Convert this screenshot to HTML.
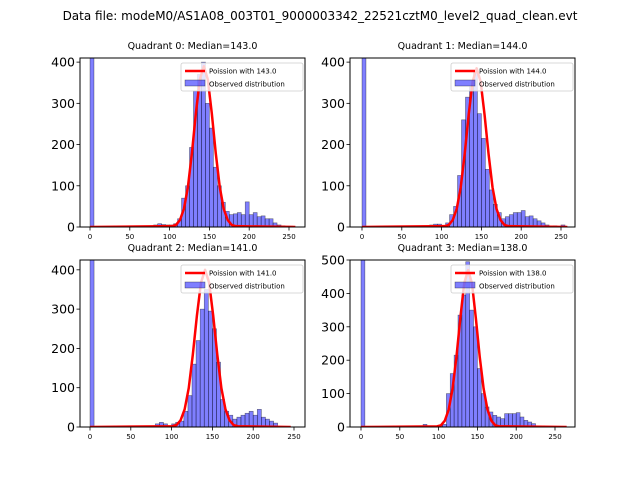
<!DOCTYPE html>
<html><head><meta charset="utf-8"><style>
body{margin:0;background:#fff;font-family:"Liberation Sans","DejaVu Sans",sans-serif}
svg text{font-family:"DejaVu Sans","Liberation Sans",sans-serif}
</style></head><body>
<svg id="fig" width="640" height="480" xmlns="http://www.w3.org/2000/svg">
<rect width="640" height="480" fill="#fff"/>
<text x="320" y="20" font-size="12" text-anchor="middle">Data file: modeM0/AS1A08_003T01_9000003342_22521cztM0_level2_quad_clean.evt</text>
</svg>
<script>
const binStarts=[0,75,80,85,90,95,100,105,110,115,120,125,130,135,140,145,150,155,160,165,170,175,180,185,190,195,200,205,210,215,220,225,230,235,240,245,250];
const q0Counts=[2000,2,5,8,6,5,5,8,20,70,100,193,330,370,400,300,240,145,100,60,38,30,32,35,30,61,30,35,25,27,20,20,10,5,3,2,2];
const q1Counts=[2000,3,2,5,7,7,3,10,30,50,125,260,315,340,380,275,215,140,90,55,35,20,25,30,35,35,40,25,27,20,15,10,5,2,3,1,5];
const q2Counts=[2000,0,8,12,8,3,8,12,15,40,80,160,220,300,350,295,250,165,70,40,30,20,25,30,35,40,30,45,25,20,15,10,0,0,0,0,0];
const q3Counts=[2000,3,8,1,2,3,5,8,100,160,215,335,395,495,350,300,175,100,60,45,35,30,25,40,40,40,43,30,20,15,10,3,3,0,0,0,0];
const curveOffsets=[-40,-35,-30,-25,-20,-15,-10,-5,0,5,10,15,20,25,30,35,40];
const q0Curve=[2,5,17,44,97,179,276,358,390,358,276,179,97,44,17,5,2];
const q1Curve=[2,5,17,44,96,177,272,353,385,353,272,177,96,44,17,5,2];
const q2Curve=[2,5,17,45,99,184,283,367,400,367,283,184,99,45,17,5,2];
const q3Curve=[2,5,19,52,115,210,326,430,470,430,326,210,115,52,19,5,2];
const medians=[143,144,141,138];
const curveEnds=[258,258,246,265];
const yTicksA=[0,100,200,300,400];
const yTicksB=[0,100,200,300,400,500];
const xTicks=[0,50,100,150,200,250];
const panels=[
 {l:80,r:305,t:58,b:227,x0:90,x250:289,ymax:410,counts:q0Counts,curve:q0Curve,yt:yTicksA},
 {l:350,r:575,t:58,b:227,x0:362,x250:561,ymax:410,counts:q1Counts,curve:q1Curve,yt:yTicksA},
 {l:80,r:305,t:260,b:427,x0:90,x250:294,ymax:425,counts:q2Counts,curve:q2Curve,yt:yTicksA},
 {l:350,r:575,t:260,b:427,x0:361,x250:555,ymax:500,counts:q3Counts,curve:q3Curve,yt:yTicksB}];
const NS="http://www.w3.org/2000/svg";
const fig=document.getElementById('fig');
function mk(tag,attrs,parent){const e=document.createElementNS(NS,tag);for(const k in attrs)e.setAttribute(k,attrs[k]);(parent||fig).appendChild(e);return e;}
panels.forEach((p,i)=>{
 const g=mk('g',{});
 
 
 const xs=v=>p.x0+(p.x250-p.x0)*v/250;
 const ys=v=>p.b-(p.b-p.t)*v/p.ymax;
 const cid='clip'+i;
 const cp=mk('clipPath',{id:cid},g);mk('rect',{x:p.l,y:p.t,width:p.r-p.l,height:p.b-p.t},cp);
 const t=mk('text',{x:(p.l+p.r)/2,y:p.t-9,'font-size':9.5,'text-anchor':'middle'},g);
 t.textContent='Quadrant '+i+': Median='+medians[i].toFixed(1);
 
 
 const bg=mk('g',{'clip-path':'url(#'+cid+')'},g);
 binStarts.forEach((s,j)=>{const c=p.counts[j];if(!c)return;
  const r=mk('rect',{x:xs(s),y:ys(c),width:xs(s+5)-xs(s),height:ys(0)-ys(c),fill:'rgba(0,0,255,0.5)',stroke:'rgba(0,0,0,0.5)','stroke-width':0.6},bg);
  
  });
 const m=medians[i];
 let pts=[[xs(0),ys(0)]];
 curveOffsets.forEach((o,j)=>pts.push([xs(m+o),ys(p.curve[j])]));
 pts.push([xs(curveEnds[i]),ys(0)]);
 const pl=mk('polyline',{points:pts.map(a=>a.join(',')).join(' '),fill:'none',stroke:'#f00','stroke-width':2.5,'stroke-linejoin':'round'},bg);
 
 
 mk('rect',{x:p.l,y:p.t,width:p.r-p.l,height:p.b-p.t,fill:'none',stroke:'#000','stroke-width':1},g);
 p.yt.forEach(v=>{const y=ys(v);mk('line',{x1:p.l-3.5,x2:p.l,y1:y,y2:y,stroke:'#000','stroke-width':0.8},g);
  const tt=mk('text',{x:p.l-5,y:y+4.5,'font-size':12.5,'text-anchor':'end'},g);tt.textContent=v;
  
  });
 xTicks.forEach(v=>{const x=xs(v);mk('line',{x1:x,x2:x,y1:p.b,y2:p.b+3.5,stroke:'#000','stroke-width':0.8},g);
  const tt=mk('text',{x:x,y:p.b+12,'font-size':7,'text-anchor':'middle'},g);tt.textContent=v;
  
  });
 const lg=mk('g',{},g);
 
 
 const lx=p.r-124,ly=p.t+5;
 mk('rect',{x:lx,y:ly,width:122,height:28,fill:'rgba(255,255,255,0.8)',stroke:'#ccc','stroke-width':0.8,rx:2},lg);
 mk('line',{x1:lx+4,x2:lx+24,y1:ly+8,y2:ly+8,stroke:'#f00','stroke-width':2.5},lg);
 const l1=mk('text',{x:lx+28,y:ly+10.5,'font-size':7},lg);l1.textContent='Poission with '+m.toFixed(1);
 mk('rect',{x:lx+4,y:ly+17,width:20,height:6,fill:'rgba(0,0,255,0.5)',stroke:'rgba(0,0,0,0.5)','stroke-width':0.6},lg);
 const l2=mk('text',{x:lx+28,y:ly+23.5,'font-size':7},lg);l2.textContent='Observed distribution';
});
</script>
</body></html>
